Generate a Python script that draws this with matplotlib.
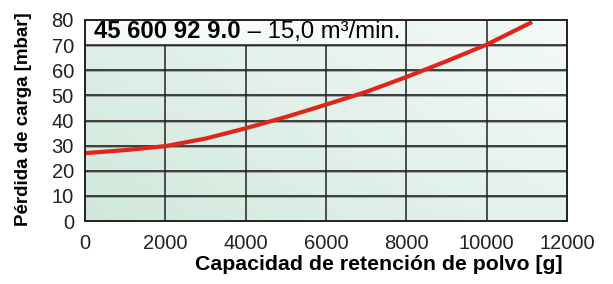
import numpy as np
import matplotlib
matplotlib.use("Agg")
import matplotlib.pyplot as plt
from matplotlib.patches import Rectangle
from matplotlib.colors import LinearSegmentedColormap

plt.rcParams["font.family"] = ["Liberation Sans", "DejaVu Sans"]

# curve
dust_g = [0, 1000, 2000, 3000, 4000, 5000, 6000, 7000, 8000, 9000, 10000, 11130]
loss_mbar = [27.0, 28.2, 29.8, 32.8, 36.9, 41.4, 46.3, 51.4, 57.3, 63.6, 70.2, 79.2]

x_ticks = [0, 2000, 4000, 6000, 8000, 10000, 12000]
y_ticks = [0, 10, 20, 30, 40, 50, 60, 70, 80]

model = "45 600 92 9.0"
flow = " \u2013 15,0 m\u00b3/min."
x_label = "Capacidad de retención de polvo [g]"
y_label = "Pérdida de carga [mbar]"

fig = plt.figure(figsize=(6.13, 2.84), dpi=100)
ax = fig.add_axes([0.1387, 0.2218, 0.7863, 0.7078])
ax.set_xlim(0, 12000)
ax.set_ylim(0, 80)

# soft green gradient, darker bottom-left
gx, gy = np.meshgrid(np.linspace(0, 1, 200), np.linspace(0, 1, 100))
grad = (gx * 0.6 + gy * 0.4)
cmap = LinearSegmentedColormap.from_list("bg", ["#d0e8dc", "#e2f1ea", "#f4faf8"])
ax.imshow(grad, extent=(0, 12000, 0, 80), origin="lower", aspect="auto",
          cmap=cmap, zorder=0)

for y in y_ticks[1:-1]:
    ax.axhline(y, color="#a0a0a0", lw=2.0, zorder=1)
    ax.axhline(y, color="#222222", lw=1.1, zorder=1.1)
for x in x_ticks[1:-1]:
    ax.axvline(x, color="#222222", lw=1.1, zorder=1.1)

# header box over the top band
ax.add_patch(Rectangle((0, 70), 8000, 10, facecolor="#f6fbf9", edgecolor="#222222",
                       lw=1.1, zorder=2))
t = ax.text(230, 75.3, model, fontsize=17.2, fontweight="bold", va="center", ha="left",
            zorder=3)
ax.annotate(flow, xy=(1, 0), xycoords=t, va="bottom", ha="left", fontsize=17.2, zorder=3)

ax.plot(dust_g, loss_mbar, color="#e0251a", lw=3, solid_capstyle="butt", zorder=4)

ax.set_xticks(x_ticks)
ax.set_yticks(y_ticks)
ax.tick_params(length=0, labelsize=14.5, colors="#222222")
ax.tick_params(axis="x", pad=9)
ax.tick_params(axis="y", pad=8)
for s in ax.spines.values():
    s.set_color("#222222")
    s.set_linewidth(1.4)
    s.set_zorder(5)

ax.set_xlabel(x_label, fontsize=15.3, fontweight="bold", ha="right", va="top")
ax.xaxis.set_label_coords(0.99, -0.17)
ax.set_ylabel(y_label, fontsize=13.5, fontweight="bold", va="center")
ax.yaxis.set_label_coords(-0.127, 0.505)

fig.savefig("out.png", dpi=100)
